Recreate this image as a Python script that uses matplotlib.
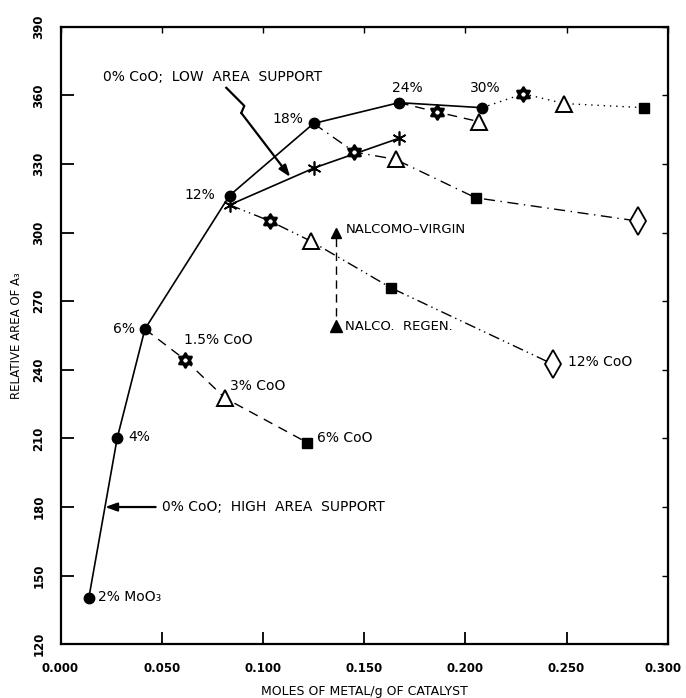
import matplotlib
matplotlib.use("Agg")
import matplotlib.pyplot as plt
import matplotlib.transforms as mtransforms
from matplotlib.path import Path
import numpy as np

# ---------------- data ----------------
main_x = [0.0140, 0.0280, 0.0417, 0.0835, 0.1250, 0.1672, 0.2083]
main_y = [140.3, 210.1, 257.8, 316.2, 347.7, 356.8, 354.6]
main_labels = ["2% MoO\u2083", "4%", "6%", "12%", "18%", "24%", "30%"]

low_x = [0.0835, 0.1254, 0.1671]
low_y = [312.1, 328.3, 341.2]

s6_x = [0.0417, 0.0615, 0.0813, 0.1218]
s6_y = [257.8, 244.4, 227.6, 208.2]
s12_x = [0.0835, 0.1033, 0.1238, 0.1633, 0.2431]
s12_y = [312.1, 305.1, 296.2, 275.8, 242.5]
s18_x = [0.1250, 0.1452, 0.1655, 0.2051, 0.2854]
s18_y = [347.7, 335.2, 332.0, 315.2, 305.0]
s24_x = [0.1672, 0.1861, 0.2067]
s24_y = [356.8, 352.7, 348.5]
s30_x = [0.2083, 0.2287, 0.2488, 0.2884]
s30_y = [354.6, 360.7, 356.4, 354.6]

x_ticks = [0.000, 0.050, 0.100, 0.150, 0.200, 0.250, 0.300]
x_ticklabels = ["0.000", "0.050", "0.100", "0.150", "0.200", "0.250", "0.300"]
y_ticks = [120, 150, 180, 210, 240, 270, 300, 330, 360, 390]

# ---------------- markers ----------------
t = np.deg2rad(np.array([90, 210, 330, 90]))
up = np.column_stack([np.cos(t), np.sin(t)])
down = -up
hex_verts = np.vstack([up, down])
hex_codes = [Path.MOVETO, Path.LINETO, Path.LINETO, Path.CLOSEPOLY] * 2
HEXA = Path(hex_verts, hex_codes)

marker_seq = [None, HEXA, "^", "s", "d"]  # 0%,1.5%,3%,6%,12% CoO


def draw_series(ax, xs, ys, ls):
    ax.plot(xs, ys, color="black", lw=1.0, linestyle=ls, zorder=2)
    for i, (x, y) in enumerate(zip(xs, ys)):
        if i == 0:
            continue
        m = marker_seq[i]
        if m is HEXA:
            ax.plot([x], [y], marker=HEXA, ms=10, mfc="white", mec="black", mew=2.0, ls="none", zorder=4)
        elif m == "^":
            ax.plot([x], [y], marker="^", ms=11, mfc="white", mec="black", mew=1.4, ls="none", zorder=4)
        elif m == "s":
            ax.plot([x], [y], marker="s", ms=6.5, mfc="black", mec="black", ls="none", zorder=4)
        elif m == "d":
            ax.plot([x], [y], marker="d", ms=14, mfc="white", mec="black", mew=1.3, ls="none", zorder=4)


fig = plt.figure(figsize=(6.86, 6.98), dpi=100)
ax = fig.add_axes([0.0882, 0.0770, 0.9735 - 0.0882, 0.9617 - 0.0770])

# main curve
ax.plot(main_x, main_y, color="black", lw=1.2, marker="o", ms=7.5, mfc="black", mec="black", zorder=3)
# low area support
ax.plot(low_x, low_y, color="black", lw=1.2, marker=(6, 2, 0), ms=10, mew=1.2, mec="black", zorder=3)

draw_series(ax, s6_x, s6_y, (0, (7, 5)))
draw_series(ax, s12_x, s12_y, (0, (8, 3, 1, 3, 1, 3)))
draw_series(ax, s18_x, s18_y, (0, (8, 4, 1, 4)))
draw_series(ax, s24_x, s24_y, (0, (7, 5)))
draw_series(ax, s30_x, s30_y, (0, (1, 3.5)))

ax.set_xlim(0.0, 0.300)
ax.set_ylim(120, 390)
ax.set_xticks(x_ticks)
ax.set_xticklabels(x_ticklabels)
ax.set_yticks(y_ticks)
ax.tick_params(axis="both", direction="in", length=9, width=1.3, top=False, right=False)
ax.tick_params(axis="x", labelsize=8.5, pad=13)
ax.tick_params(axis="y", labelsize=8.5, pad=11, labelrotation=90)
for lab in ax.get_yticklabels():
    lab.set_verticalalignment("center")
for lab in ax.get_xticklabels() + ax.get_yticklabels():
    lab.set_fontweight("bold")
last = ax.get_xticklabels()[-1]
last.set_transform(last.get_transform() + mtransforms.ScaledTranslation(-5 / 100, 0, fig.dpi_scale_trans))
for sp in ax.spines.values():
    sp.set_linewidth(1.6)

sx = ax.secondary_xaxis("top")
sx.set_xticks(x_ticks)
sx.tick_params(direction="in", length=4, width=1.0, labeltop=False)
sy = ax.secondary_yaxis("right")
sy.set_yticks(y_ticks)
sy.tick_params(direction="in", length=4, width=1.0, labelright=False)

ax.set_xlabel("MOLES OF METAL/g OF CATALYST", fontsize=9, labelpad=7)
ax.set_ylabel("RELATIVE AREA OF A\u2083", fontsize=8.5, labelpad=7)

fs = 10
# point labels on main curve
ax.text(0.0187, 140.5, main_labels[0], fontsize=fs, ha="left", va="center")
ax.text(0.0334, 210.4, main_labels[1], fontsize=fs, ha="left", va="center")
ax.text(0.0369, 258.0, main_labels[2], fontsize=fs, ha="right", va="center")
ax.text(0.0765, 316.4, main_labels[3], fontsize=fs, ha="right", va="center")
ax.text(0.1200, 349.7, main_labels[4], fontsize=fs, ha="right", va="center")
ax.text(0.1713, 363.0, main_labels[5], fontsize=fs, ha="center", va="center")
ax.text(0.2097, 363.0, main_labels[6], fontsize=fs, ha="center", va="center")

# CoO labels
ax.text(0.0611, 253.0, "1.5% CoO", fontsize=fs, ha="left", va="center")
ax.text(0.0839, 233.0, "3% CoO", fontsize=fs, ha="left", va="center")
ax.text(0.1269, 210.3, "6% CoO", fontsize=fs, ha="left", va="center")
ax.text(0.2506, 243.4, "12% CoO", fontsize=fs, ha="left", va="center")

# NALCO
ax.text(0.1407, 301.5, "NALCOMO\u2013VIRGIN", fontsize=9.5, ha="left", va="center")
ax.text(0.1407, 258.9, "NALCO.  REGEN.", fontsize=9.5, ha="left", va="center")
ax.plot([0.1360], [259.3], marker="^", ms=8, mfc="black", mec="black", ls="none")
ax.plot([0.1360, 0.1360], [263.5, 298.0], color="black", lw=1.0, linestyle=(0, (6, 4)))
ax.plot([0.1360], [300.0], marker="^", ms=6.5, mfc="black", mec="black", ls="none")

# annotations
ax.text(0.0210, 368.0, "0% CoO;  LOW  AREA  SUPPORT", fontsize=fs, ha="left", va="center")
ax.plot([0.0819, 0.0908, 0.0893], [363.3, 355.4, 352.3], color="black", lw=1.6)
ax.annotate("", xy=(0.1135, 324.3), xytext=(0.0893, 352.3),
            arrowprops=dict(arrowstyle="-|>,head_length=0.7,head_width=0.25", color="black", lw=1.6,
                            shrinkA=0, shrinkB=0))

ax.text(0.0500, 180.0, "0% CoO;  HIGH  AREA  SUPPORT", fontsize=fs, ha="left", va="center")
ax.annotate("", xy=(0.0220, 180.0), xytext=(0.0470, 180.0),
            arrowprops=dict(arrowstyle="-|>,head_length=0.7,head_width=0.25", color="black", lw=1.6,
                            shrinkA=0, shrinkB=0))

fig.savefig("out.png", dpi=100)
